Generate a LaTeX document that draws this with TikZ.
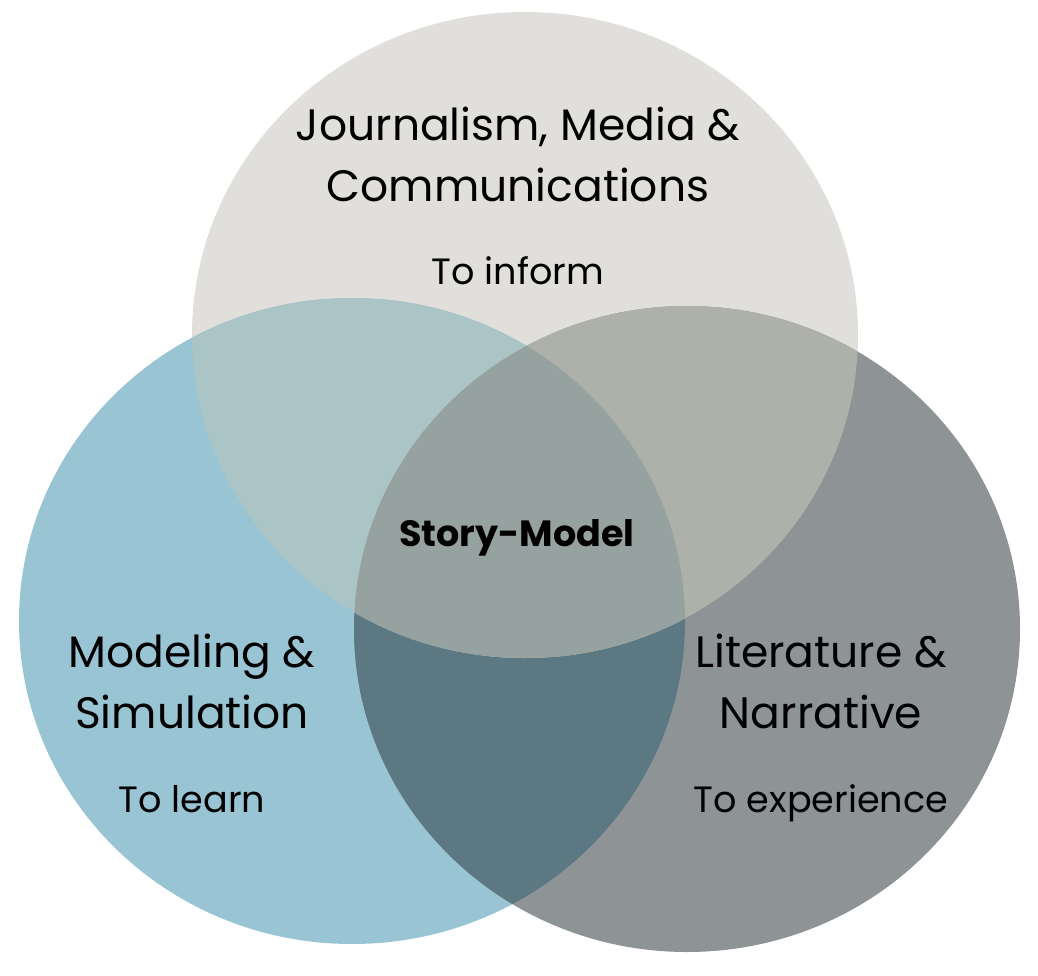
\documentclass[tikz,border=0pt]{standalone}
\usepackage{fontspec}
\setmainfont{Poppins}
\definecolor{vtop}{RGB}{225,223,219}
\definecolor{vleft}{RGB}{152,196,212}
\definecolor{vright}{RGB}{142,147,150}
\definecolor{vtopleft}{RGB}{171,196,198}
\definecolor{vtopright}{RGB}{174,176,170}
\definecolor{vleftright}{RGB}{92,120,131}
\definecolor{vcentre}{RGB}{150,162,159}

\begin{document}
\begin{tikzpicture}[x=1pt,y=-1pt,x radius=333pt,y radius=323pt,
  head/.style={align=center,anchor=base,font=\fontsize{44}{61}\selectfont},
  aim/.style={anchor=base,font=\fontsize{36.6}{44}\selectfont}]
  \useasboundingbox (0,0) rectangle (1038,976);
  \coordinate (T) at (525,335);
  \coordinate (L) at (352,621);
  \coordinate (R) at (687,629);
  % the three sets
  \fill[vtop] (T) ellipse [];
  \fill[vleft] (L) ellipse [];
  \fill[vright] (R) ellipse [];
  \begin{scope}
    \clip (L) ellipse [];
    \fill[vleftright] (R) ellipse [];
  \end{scope}
  \begin{scope}
    \clip (T) ellipse [];
    \fill[vtopleft] (L) ellipse [];
    \fill[vtopright] (R) ellipse [];
    \clip (L) ellipse [];
    \fill[vcentre] (R) ellipse [];
  \end{scope}
  % labels (base = baseline of the last line)
  \node[head] (jmc) at (518,202) {Journalism, Media \&\\Communications};
  \node[aim] (inform) at (518,284) {To inform};
  \node[head] (ms) at (192,728) {Modeling \&\\Simulation};
  \node[aim] (learn) at (192,812) {To learn};
  \node[head] (ln) at (821,728) {Literature \&\\Narrative};
  \node[aim] (experience) at (821,812) {To experience};
  \node[anchor=base,font=\fontsize{36.5}{44}\selectfont\bfseries] (story) at (517,546) {Story-Model};
\end{tikzpicture}
\end{document}
